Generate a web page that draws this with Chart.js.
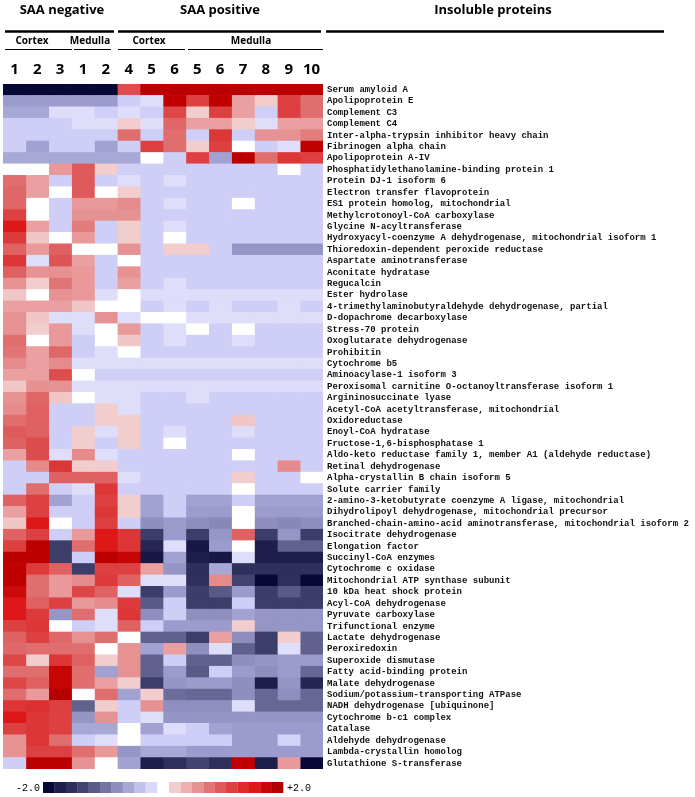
<!DOCTYPE html>
<html>
<head>
<meta charset="utf-8">
<script src="https://cdn.jsdelivr.net/npm/chart.js@4"></script>
<style>
  body { margin: 0; background: #fff; }
  canvas { display: block; }
</style>
</head>
<body>
<canvas id="heatmap" width="695" height="797"></canvas>
<script>
Chart.defaults.animation = false;

// sample columns (left to right)
const columnLabels = ['1', '2', '3', '1', '2', '4', '5', '6', '5', '6', '7', '8', '9', '10'];
const groupLabels = ['SAA negative', 'SAA positive', 'Insoluble proteins'];
const regionLabels = ['Cortex', 'Medulla', 'Cortex', 'Medulla'];
const legendSteps = [-2.0, -1.8, -1.6, -1.4, -1.2, -1.0, -0.8, -0.6, -0.4, -0.2];

const proteins = [
  'Serum amyloid A',
  'Apolipoprotein E',
  'Complement C3',
  'Complement C4',
  'Inter-alpha-trypsin inhibitor heavy chain',
  'Fibrinogen alpha chain',
  'Apolipoprotein A-IV',
  'Phosphatidylethanolamine-binding protein 1',
  'Protein DJ-1 isoform 6',
  'Electron transfer flavoprotein',
  'ES1 protein homolog, mitochondrial',
  'Methylcrotonoyl-CoA carboxylase',
  'Glycine N-acyltransferase',
  'Hydroxyacyl-coenzyme A dehydrogenase, mitochondrial isoform 1',
  'Thioredoxin-dependent peroxide reductase',
  'Aspartate aminotransferase',
  'Aconitate hydratase',
  'Regucalcin',
  'Ester hydrolase',
  '4-trimethylaminobutyraldehyde dehydrogenase, partial',
  'D-dopachrome decarboxylase',
  'Stress-70 protein',
  'Oxoglutarate dehydrogenase',
  'Prohibitin',
  'Cytochrome b5',
  'Aminoacylase-1 isoform 3',
  'Peroxisomal carnitine O-octanoyltransferase isoform 1',
  'Argininosuccinate lyase',
  'Acetyl-CoA acetyltransferase, mitochondrial',
  'Oxidoreductase',
  'Enoyl-CoA hydratase',
  'Fructose-1,6-bisphosphatase 1',
  'Aldo-keto reductase family 1, member A1 (aldehyde reductase)',
  'Retinal dehydrogenase',
  'Alpha-crystallin B chain isoform 5',
  'Solute carrier family',
  '2-amino-3-ketobutyrate coenzyme A ligase, mitochondrial',
  'Dihydrolipoyl dehydrogenase, mitochondrial precursor',
  'Branched-chain-amino-acid aminotransferase, mitochondrial isoform 2',
  'Isocitrate dehydrogenase',
  'Elongation factor',
  'Succinyl-CoA enzymes',
  'Cytochrome c oxidase',
  'Mitochondrial ATP synthase subunit',
  '10 kDa heat shock protein',
  'Acyl-CoA dehydrogenase',
  'Pyruvate carboxylase',
  'Trifunctional enzyme',
  'Lactate dehydrogenase',
  'Peroxiredoxin',
  'Superoxide dismutase',
  'Fatty acid-binding protein',
  'Malate dehydrogenase',
  'Sodium/potassium-transporting ATPase',
  'NADH dehydrogenase [ubiquinone]',
  'Cytochrome b-c1 complex',
  'Catalase',
  'Aldehyde dehydrogenase',
  'Lambda-crystallin homolog',
  'Glutathione S-transferase'
];

// one row per protein, one value per column (-2 .. +2)
const levels = [
  [-2, -2, -2, -2, -2, 1.1, 1.9, 1.9, 1.9, 1.9, 1.9, 1.9, 1.9, 1.9],
  [-0.7, -0.7, -0.7, -0.7, -0.7, -0.3, -0.15, 1.85, 1.2, 1.85, 0.5, 0.2, 1.2, 0.85],
  [-0.6, -0.6, -0.15, -0.15, -0.3, -0.15, -0.3, 1.15, 0.2, 1.2, 0.5, -0.3, 1.2, 0.85],
  [-0.3, -0.3, -0.3, -0.15, -0.15, 0.2, -0.15, 0.9, 0.5, 0.5, 0.2, -0.15, 0.5, 0.5],
  [-0.3, -0.3, -0.3, -0.3, -0.3, 0.85, -0.3, 0.85, -0.3, 1.3, -0.3, 0.6, 0.6, 0.75],
  [-0.3, -0.65, -0.3, -0.3, -0.65, -0.3, 1.2, 0.85, 0.2, 1.2, 0, -0.3, -0.15, 1.85],
  [-0.6, -0.6, -0.6, -0.6, -0.6, -0.6, 0, -0.3, 1.2, -0.65, 1.9, 0.85, 1.3, 1.2],
  [0, 0, 0.55, 1.0, 0.2, -0.3, -0.3, -0.3, -0.3, -0.3, -0.3, -0.3, 0, -0.3],
  [0.85, 0.5, -0.3, 1.0, -0.3, -0.15, -0.3, -0.15, -0.3, -0.3, -0.3, -0.3, -0.3, -0.3],
  [0.9, 0.5, 0, 1.0, 0, 0.2, -0.3, -0.3, -0.3, -0.3, -0.3, -0.3, -0.3, -0.3],
  [0.9, 0, -0.3, 0.55, 0.55, 0.65, -0.3, -0.15, -0.3, -0.3, 0, -0.3, -0.3, -0.3],
  [1.2, 0, -0.3, 0.6, 0.6, 0.6, -0.3, -0.3, -0.3, -0.3, -0.3, -0.3, -0.3, -0.3],
  [1.6, 0.5, -0.3, 0.75, -0.3, 0.2, -0.3, -0.15, -0.3, -0.3, -0.3, -0.3, -0.3, -0.3],
  [1.25, 0.25, 0, 0.55, -0.3, 0.2, -0.3, 0, -0.3, -0.3, -0.3, -0.3, -0.3, -0.3],
  [0.95, 0.55, 0.95, 0, 0, 0.6, -0.3, 0.2, 0.2, -0.3, -0.75, -0.75, -0.75, -0.75],
  [1.3, -0.15, 1.05, 0.5, -0.3, 0, -0.3, -0.3, -0.3, -0.3, -0.3, -0.3, -0.3, -0.3],
  [0.95, 0.6, 0.6, 0.55, -0.3, 0.6, -0.3, -0.3, -0.3, -0.3, -0.3, -0.3, -0.3, -0.3],
  [0.6, 0.2, 0.8, 0.55, -0.3, 0.5, -0.3, -0.15, -0.3, -0.3, -0.3, -0.3, -0.3, -0.3],
  [0.25, 0, 0.6, 0.55, -0.15, 0, -0.15, -0.15, -0.15, -0.15, -0.15, -0.15, -0.15, -0.15],
  [0.5, 0.5, 0.5, 0.25, 0, 0, -0.3, -0.15, -0.3, -0.15, -0.3, -0.3, -0.15, -0.3],
  [0.6, 0.25, -0.15, -0.15, 0.6, -0.15, 0, 0, -0.15, -0.15, -0.15, -0.15, -0.15, -0.15],
  [0.6, 0.2, 0.55, -0.15, 0, 0.55, -0.3, -0.15, 0, -0.3, 0, -0.3, -0.3, -0.3],
  [0.85, 0, 0.55, -0.3, 0, 0.25, -0.3, -0.15, -0.3, -0.3, -0.15, -0.3, -0.3, -0.3],
  [0.8, 0.5, 0.9, -0.3, -0.15, 0, -0.3, -0.3, -0.3, -0.3, -0.3, -0.3, -0.3, -0.3],
  [0.65, 0.5, 0.65, -0.15, -0.15, -0.15, -0.15, -0.15, -0.15, -0.15, -0.15, -0.15, -0.15, -0.15],
  [0.5, 0.5, 1.1, 0, -0.3, -0.3, -0.3, -0.3, -0.3, -0.3, -0.3, -0.3, -0.3, -0.3],
  [0.25, 0.6, 0.6, -0.15, -0.15, -0.15, -0.15, -0.15, -0.15, -0.15, -0.15, -0.15, -0.15, -0.15],
  [0.6, 0.9, 0.25, 0, -0.15, -0.15, -0.3, -0.3, -0.15, -0.3, -0.3, -0.3, -0.3, -0.3],
  [0.65, 0.95, -0.3, -0.3, 0.2, -0.15, -0.3, -0.3, -0.3, -0.3, -0.3, -0.3, -0.3, -0.3],
  [0.85, 0.95, -0.3, -0.3, 0.2, 0.2, -0.3, -0.3, -0.3, -0.3, 0.25, -0.3, -0.3, -0.3],
  [1.0, 0.95, -0.3, 0.2, -0.15, 0.2, -0.3, -0.15, -0.3, -0.3, -0.15, -0.3, -0.3, -0.3],
  [0.95, 1.1, -0.3, 0.2, -0.3, 0.2, -0.3, 0, -0.3, -0.3, -0.3, -0.3, -0.3, -0.3],
  [0.5, 1.1, -0.15, 0.65, -0.15, -0.3, -0.3, -0.3, -0.3, -0.3, 0, -0.3, -0.3, -0.3],
  [-0.3, 0.65, 1.3, 0.2, 0.2, -0.3, -0.3, -0.3, -0.3, -0.3, -0.3, -0.3, 0.65, -0.3],
  [-0.3, -0.3, 0.95, 0.95, 0.95, -0.15, -0.3, -0.3, -0.3, -0.3, 0.2, -0.3, -0.3, 0],
  [-0.3, 0.85, -0.3, -0.15, 1.3, -0.3, -0.3, -0.3, -0.3, -0.3, 0, -0.3, -0.3, -0.3],
  [0.95, 1.2, -0.65, -0.3, 1.2, 0.2, -0.65, -0.3, -0.65, -0.65, -0.3, -0.65, -0.65, -0.65],
  [0.5, 1.2, -0.3, -0.3, 1.3, 0.2, -0.65, -0.3, -0.7, -0.7, 0, -0.7, -0.7, -0.7],
  [0.25, 1.6, 0, -0.3, 1.2, -0.3, -0.8, -0.7, -0.8, -0.85, 0, -0.8, -0.85, -0.8],
  [0.95, 1.2, -0.3, 0.55, 1.6, 1.3, -1.45, -0.7, -1.45, -0.75, 0.95, -1.45, -0.75, -1.45],
  [1.2, 1.9, -1.45, 0.85, 1.6, 1.3, -1.7, -0.15, -1.85, -0.7, 0, -1.8, -1.15, -1.15],
  [1.9, 1.9, -1.45, -0.3, 1.9, 1.8, -1.85, -0.65, -1.8, -1.85, -0.15, -1.8, -1.8, -1.8],
  [1.85, 1.25, 0.95, -1.45, 1.2, 1.2, 0.5, -0.75, -1.6, -0.6, -1.6, -1.6, -1.6, -1.6],
  [1.85, 0.85, 0.55, 0.65, 1.25, 0.95, -0.15, -0.15, -1.6, 0.65, -1.4, -2.0, -1.6, -2.0],
  [1.75, 0.85, 0.55, 1.15, 0.95, -0.15, -1.45, -0.7, -1.45, -1.2, -0.7, -1.45, -1.2, -1.45],
  [1.6, 0.95, 1.2, 0.55, 0.65, 1.25, -1.2, -0.3, -1.45, -1.45, -0.3, -1.45, -1.45, -1.45],
  [1.6, 1.25, -0.75, 0.85, -0.15, 1.3, -0.8, -0.3, -0.8, -0.8, -0.65, -0.75, -0.75, -0.75],
  [1.2, 1.3, 0, -0.3, -0.15, 0.95, -0.3, -0.7, -0.7, -0.7, 0.2, -0.75, -0.75, -0.75],
  [0.95, 1.2, 0.9, 0.6, 0.85, 0, -1.15, -1.15, -1.45, 0.5, -0.8, -1.45, 0.2, -1.15],
  [0.9, 0.85, 0.85, 0.85, 0, 0.6, -0.65, 0.5, -0.8, -0.15, -1.15, -1.45, -0.15, -1.15],
  [1.15, 0.2, 1.3, 0.95, 0.2, 0.6, -1.15, -0.3, -1.15, -1.15, -0.8, -0.75, -0.7, -0.7],
  [0.85, 0.85, 1.8, 0.85, -0.65, 0.6, -1.15, -0.7, -1.2, -0.3, -0.7, -0.8, -0.7, -1.1],
  [1.15, 0.95, 1.8, 0.85, 0.5, 0.2, -1.45, -0.75, -0.7, -0.7, -0.8, -1.8, -0.75, -1.7],
  [0.85, 0.55, 1.95, 0, 0.85, -0.65, 0.2, -1.05, -1.1, -1.1, -0.8, -1.1, -0.8, -1.1],
  [1.3, 1.35, 1.2, -1.15, 0.2, -0.3, 0.6, -0.8, -0.8, -0.8, -0.15, -1.1, -1.1, -1.1],
  [1.6, 1.3, 1.2, -0.75, 0.6, -0.3, -0.15, -0.75, -0.75, -0.75, -0.75, -0.75, -0.75, -0.75],
  [1.2, 1.3, 1.2, -0.6, -0.6, 0, -0.65, -0.15, -0.3, -0.65, -0.7, -0.7, -0.7, -0.7],
  [0.6, 1.3, 0.85, -0.3, -0.15, 0, -0.3, -0.3, -0.3, -0.3, -0.7, -0.7, -0.25, -0.7],
  [0.6, 1.2, 1.2, 0.85, 0.55, -0.75, -0.6, -0.6, -0.7, -0.7, -0.7, -0.7, -0.7, -0.7],
  [-0.3, 1.9, 1.9, 0.6, 0, -0.65, -1.8, -1.6, -1.4, -1.6, 1.85, -1.8, 0.55, -2.0]
];

// colour ramp navy - white - red
const ramp = [
  [-2.0, [8, 8, 55]],
  [-1.8, [30, 30, 75]],
  [-1.5, [55, 55, 100]],
  [-1.2, [90, 90, 135]],
  [-0.7, [155, 155, 205]],
  [-0.3, [206, 206, 246]],
  [-0.15, [222, 222, 250]],
  [0, [255, 255, 255]],
  [0.2, [242, 205, 205]],
  [0.5, [234, 160, 160]],
  [0.85, [224, 110, 110]],
  [1.2, [221, 64, 64]],
  [1.6, [222, 24, 24]],
  [1.85, [192, 0, 0]],
  [2.0, [176, 0, 0]]
];

function colourFor(v) {
  if (v <= ramp[0][0]) return 'rgb(' + ramp[0][1].join(',') + ')';
  for (let i = 1; i < ramp.length; i++) {
    if (v <= ramp[i][0]) {
      const [v0, c0] = ramp[i - 1];
      const [v1, c1] = ramp[i];
      const t = (v - v0) / (v1 - v0);
      const c = c0.map((x, k) => Math.round(x + (c1[k] - x) * t));
      return 'rgb(' + c.join(',') + ')';
    }
  }
  return 'rgb(' + ramp[ramp.length - 1][1].join(',') + ')';
}

// one dataset per sample column, floating bars across the column
const datasets = columnLabels.map((lab, c) => ({
  label: lab,
  data: proteins.map(() => [c, c + 1]),
  backgroundColor: levels.map(row => colourFor(row[c])),
  borderWidth: 0,
  barPercentage: 1,
  categoryPercentage: 1,
  grouped: false
}));

const headerPlugin = {
  id: 'header',
  afterDraw(chart) {
    const ctx = chart.ctx;
    const x = chart.scales.x;
    const colX = i => x.getPixelForValue(i + 0.5);
    ctx.save();
    ctx.fillStyle = '#000';
    ctx.strokeStyle = '#000';
    ctx.textAlign = 'center';
    ctx.textBaseline = 'middle';

    // group titles
    ctx.font = 'bold 13px "Open Sans"';
    ctx.fillText(groupLabels[0], 62, 10);
    ctx.fillText(groupLabels[1], 220, 10);
    ctx.fillText(groupLabels[2], 493, 10);

    ctx.lineWidth = 2.5;
    [[5, 114], [118, 321], [326, 664]].forEach(([a, b]) => {
      ctx.beginPath(); ctx.moveTo(a, 31.5); ctx.lineTo(b, 31.5); ctx.stroke();
    });

    // tissue regions
    ctx.font = 'bold 10px "Open Sans"';
    ctx.fillText(regionLabels[0], 32, 41);
    ctx.fillText(regionLabels[1], 90, 41);
    ctx.fillText(regionLabels[2], 149, 41);
    ctx.fillText(regionLabels[3], 251, 41);

    ctx.lineWidth = 1.2;
    [[5, 72], [74, 111], [118, 185], [188, 323]].forEach(([a, b]) => {
      ctx.beginPath(); ctx.moveTo(a, 49.5); ctx.lineTo(b, 49.5); ctx.stroke();
    });

    // sample numbers
    ctx.font = 'bold 15px "Open Sans"';
    columnLabels.forEach((lab, i) => ctx.fillText(lab, colX(i), 70));

    // colour key
    const boxW = 11.4;
    legendSteps.forEach((v, i) => {
      ctx.fillStyle = colourFor(v);
      ctx.fillRect(43 + i * boxW, 782, boxW + 0.3, 11);
      ctx.fillStyle = colourFor(-v);
      ctx.fillRect(283 - (i + 1) * boxW, 782, boxW + 0.3, 11);
    });
    ctx.fillStyle = '#000';
    ctx.font = '10px "Liberation Mono"';
    ctx.textAlign = 'right';
    ctx.fillText('-2.0', 40, 788);
    ctx.textAlign = 'left';
    ctx.fillText('+2.0', 287, 788);
    ctx.restore();
  }
};

new Chart(document.getElementById('heatmap'), {
  type: 'bar',
  data: { labels: proteins, datasets: datasets },
  options: {
    indexAxis: 'y',
    responsive: false,
    devicePixelRatio: 1,
    layout: { padding: { left: 3, top: 84, right: 0, bottom: 28 } },
    plugins: { legend: { display: false }, tooltip: { enabled: false } },
    scales: {
      x: { type: 'linear', min: 0, max: columnLabels.length, display: false },
      y: {
        position: 'right',
        grid: { display: false, drawTicks: false },
        border: { display: false },
        ticks: {
          autoSkip: false,
          padding: 4,
          color: '#111',
          font: { family: '"Liberation Mono"', size: 9, weight: 'bold' }
        },
        afterFit: (scale) => { scale.width = 372; }
      }
    }
  },
  plugins: [headerPlugin]
});
</script>
</body>
</html>
